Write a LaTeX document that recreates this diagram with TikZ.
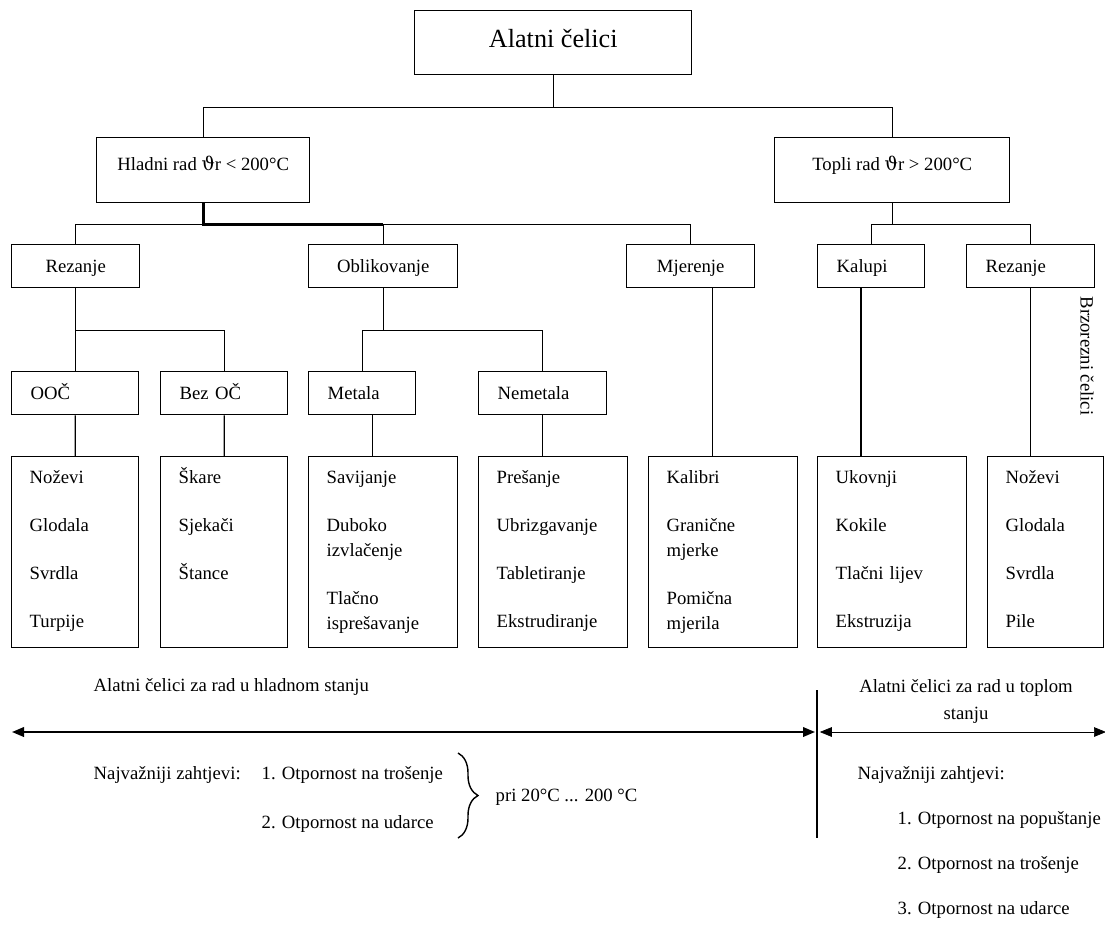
\documentclass[tikz,border=0pt]{standalone}
\usepackage{fontspec}
\setmainfont{Liberation Serif}
\newfontfamily\thetafont{DejaVu Serif}
\usepackage{tikz}
\usetikzlibrary{arrows.meta, decorations.pathreplacing}

\newcommand{\itemgap}{16.3pt}

\begin{document}
\begin{tikzpicture}[x=0.025cm,y=-0.025cm,line width=1pt,
		font=\fontsize{13.3}{17.8}\selectfont,
		>={Triangle[length=0.3cm,width=0.24cm]},
		box/.style={draw, anchor=north west, inner sep=0pt, minimum height=1.075cm, text height=0.35cm, text depth=0.04cm},
		cbox/.style={box, align=center},
		lbox/.style={box, align=left, inner xsep=0.475cm},
		leaf/.style={draw, anchor=north west, align=left, inner xsep=0.45cm, inner ysep=0pt, text height=0.675cm, text depth=4.1cm},
		txt/.style={anchor=west, inner sep=0pt, text height=0.31cm, text depth=0pt}]
	\useasboundingbox (0,0) rectangle (1105,929);

	\node[draw, anchor=north west, inner sep=0pt, minimum width=6.925cm, minimum height=1.6cm, text height=0.5cm, text depth=0.27cm, font=\fontsize{18.6}{22}\selectfont] (root) at (414,10) {Alatni čelici};
	\node[box, minimum width=5.325cm, minimum height=1.625cm, text depth=0.35cm] (hladni) at (96,137) {Hladni rad {\thetafont ϑ}r < 200°C};
	\node[box, minimum width=5.875cm, minimum height=1.625cm, text depth=0.35cm] (topli) at (774,137) {Topli rad {\thetafont ϑ}r > 200°C};

	\node[cbox, minimum width=3.2cm] (rez1) at (11,244) {Rezanje};
	\node[cbox, minimum width=3.725cm] (obl) at (308,244) {Oblikovanje};
	\node[cbox, minimum width=3.2cm] (mjer) at (626,244) {Mjerenje};
	\node[lbox, text width=1.725cm] (kal) at (817,244) {Kalupi};
	\node[lbox, text width=2.25cm] (rez2) at (966,244) {Rezanje};

	\node[lbox, text width=2.225cm] (ooc) at (11,371) {OOČ};
	\node[lbox, text width=2.225cm] (bez) at (160,371) {Bez OČ};
	\node[lbox, text width=1.725cm] (met) at (308,371) {Metala};
	\node[lbox, text width=2.25cm] (nem) at (478,371) {Nemetala};

	\node[leaf, text width=2.275cm] (nozevi) at (11,456) {Noževi\\[\itemgap]Glodala\\[\itemgap]Svrdla\\[\itemgap]Turpije};
	\node[leaf, text width=2.275cm] (skare) at (160,456) {Škare\\[\itemgap]Sjekači\\[\itemgap]Štance};
	\node[leaf, text width=2.825cm] (sav) at (308,456) {Savijanje\\[\itemgap]Duboko\\izvlačenje\\[\itemgap]Tlačno\\isprešavanje};
	\node[leaf, text width=2.825cm] (pres) at (478,456) {Prešanje\\[\itemgap]Ubrizgavanje\\[\itemgap]Tabletiranje\\[\itemgap]Ekstrudiranje};
	\node[leaf, text width=2.825cm] (kalib) at (648,456) {Kalibri\\[\itemgap]Granične\\mjerke\\[\itemgap]Pomična\\mjerila};
	\node[leaf, text width=2.825cm] (ukov) at (817,456) {Ukovnji\\[\itemgap]Kokile\\[\itemgap]Tlačni lijev\\[\itemgap]Ekstruzija};
	\node[leaf, text width=2cm] (noz2) at (987,456) {Noževi\\[\itemgap]Glodala\\[\itemgap]Svrdla\\[\itemgap]Pile};

	\node[rotate=-90, inner sep=0pt] (brz) at (1087,356) {Brzorezni čelici};

	\coordinate (j0) at ([yshift=-0.8cm]root.south);
	\draw (root.south) -- (j0);
	\draw (hladni.north) |- (j0) -| (topli.north);

	\coordinate (j1) at ([yshift=-0.525cm]hladni.south);
	\draw (rez1.north) |- (j1) -| (mjer.north);
	\draw (obl.north) -- (obl.north |- j1);
	\draw[line width=2.2pt] (hladni.south) -- (j1) -- (j1 -| obl.north);

	\coordinate (j2) at ([yshift=-0.525cm]topli.south);
	\draw (topli.south) -- (j2);
	\draw (kal.north) |- (j2) -| (rez2.north);

	\coordinate (j3) at ([yshift=-1.05cm]rez1.south);
	\draw (rez1.south) -- (rez1.south |- ooc.north);
	\draw (j3) -| (bez.north);
	\coordinate (j4) at ([yshift=-1.05cm]obl.south);
	\draw (obl.south) -- (j4);
	\draw (met.north) |- (j4) -| (nem.north);

	\draw (ooc.south) -- (nozevi.north);
	\draw (bez.south) -- (skare.north);
	\draw ([xshift=0.26cm]met.south) -- ([xshift=0.26cm]met.south |- sav.north);
	\draw (nem.south) -- (nem.south |- pres.north);
	\draw ([xshift=0.55cm]mjer.south) -- ([xshift=0.55cm]mjer.south |- kalib.north);
	\draw ([xshift=-0.26cm]kal.south) -- ([xshift=-0.26cm]kal.south |- ukov.north);
	\draw (rez2.south) -- (rez2.south |- noz2.north);

	\node[txt] (hlst) at (93,685) {Alatni čelici za rad u hladnom stanju};
	\node[align=center, inner sep=0pt, font=\fontsize{13.3}{19.2}\selectfont] (tpst) at (966,701) {Alatni čelici za rad u toplom\\stanju};

	\coordinate (al) at (12,732);
	\coordinate (am) at (817,732);
	\coordinate (ar) at (1106,732);
	\coordinate (d1) at (817,690);
	\coordinate (d2) at (817,838);
	\draw[<->, line width=1.3pt] (al) -- ([xshift=-0.05cm]am);
	\draw[<->, line width=0.5pt] ([xshift=0.07cm]am) -- (ar);
	\draw (d1) -- (d2);

	\node[txt] (zl) at (93,773) {Najvažniji zahtjevi:};
	\node[txt] (zl1) at (261,773) {1. Otpornost na trošenje};
	\node[txt] (zl2) at (261,822) {2. Otpornost na udarce};
	\coordinate (b1) at (458,753);
	\coordinate (b2) at (458,838);
	\draw[decorate, decoration={brace, amplitude=0.5cm}] (b1) -- (b2);
	\node[txt] (pri) at (495,795) {pri 20°C ... 200 °C};

	\node[txt] (zr) at (857,773) {Najvažniji zahtjevi:};
	\node[txt] (zr1) at (897,818) {1. Otpornost na popuštanje};
	\node[txt] (zr2) at (897,863) {2. Otpornost na trošenje};
	\node[txt] (zr3) at (897,908) {3. Otpornost na udarce};
\end{tikzpicture}
\end{document}
